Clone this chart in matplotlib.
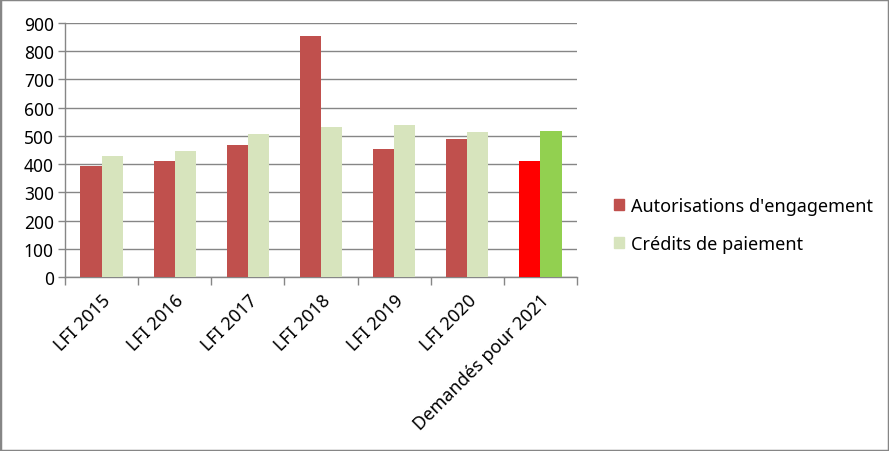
import matplotlib.pyplot as plt
import numpy as np
from matplotlib.patches import Rectangle

plt.rcParams['font.family'] = ['Noto Sans', 'DejaVu Sans']

categories = ["LFI 2015", "LFI 2016", "LFI 2017", "LFI 2018", "LFI 2019", "LFI 2020", "Demandés pour 2021"]
autorisations = [394, 412, 469, 855, 455, 490, 412]
credits = [430, 448, 505, 530, 537, 515, 519]

red = '#C0504D'
pale = '#D7E4BD'
ae_colors = [red] * 6 + ['#FF0000']
cp_colors = [pale] * 6 + ['#92D050']

fig = plt.figure(figsize=(8.89, 4.52), dpi=100)
fig.patches.append(Rectangle((0, 0), 1, 1, transform=fig.transFigure,
                             fill=False, edgecolor='#868686', linewidth=2.5))
ax = fig.add_axes([65 / 889, 1 - 278 / 452, 512 / 889, 254 / 452])

x = np.arange(len(categories))
w = 0.29
ax.bar(x - w / 2, autorisations, w, color=ae_colors, label="Autorisations d'engagement", zorder=3)
ax.bar(x + w / 2, credits, w, color=cp_colors, label="Crédits de paiement", zorder=3)

ax.set_xlim(-0.5, len(categories) - 0.5)
ax.set_ylim(0, 900)
ax.set_yticks(range(0, 901, 100))
ax.yaxis.grid(True, color='#868686', linewidth=1, zorder=0)

ax.set_xticks(x)
ax.set_xticklabels(categories, rotation=45, ha='right', rotation_mode='anchor', fontsize=13)
ax.set_xticks(np.arange(-0.5, len(categories)), minor=True)
ax.tick_params(axis='x', which='major', length=0, pad=10)
ax.tick_params(axis='x', which='minor', length=6, color='#868686', width=1)
ax.tick_params(axis='y', length=5, color='#868686', width=1, pad=3, labelsize=12.5)

for s in ['top', 'right']:
    ax.spines[s].set_visible(False)
for s in ['left', 'bottom']:
    ax.spines[s].set_color('#868686')
    ax.spines[s].set_linewidth(1)

handles = [Rectangle((0, 0), 1, 1, color=red), Rectangle((0, 0), 1, 1, color=pale)]
fig.legend(handles, ["Autorisations d'engagement", "Crédits de paiement"],
           loc='center left', bbox_to_anchor=(598 / 889, 1 - 226 / 452),
           frameon=False, fontsize=13, handlelength=0.55, handleheight=0.55,
           handletextpad=0.4, labelspacing=1.1)

fig.savefig("out.png", dpi=100)
